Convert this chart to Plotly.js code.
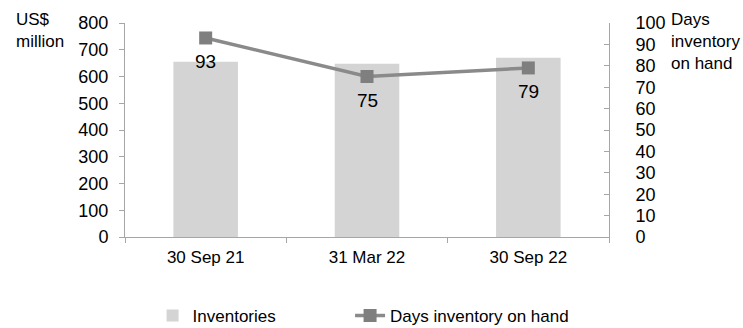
<!DOCTYPE html>
<html>
<head>
<meta charset="utf-8">
<script src="https://cdn.plot.ly/plotly-3.0.1.min.js"></script>
<style>html,body{margin:0;padding:0;background:#fff;}#chart{width:743px;height:328px;}</style>
</head>
<body>
<div id="chart"></div>
<script>
var categories = ['30 Sep 21', '31 Mar 22', '30 Sep 22'];
var inventories = [655, 648, 670];
var daysOnHand = [93, 75, 79];
var leftTicks = [0, 100, 200, 300, 400, 500, 600, 700, 800];
var rightTicks = [0, 10, 20, 30, 40, 50, 60, 70, 80, 90, 100];

var FONT = 'Liberation Sans, Arial, sans-serif';
var axisColor = '#a6a6a6';

var traces = [
  {
    type: 'bar', name: 'Inventories', x: categories, y: inventories,
    marker: {color: '#d4d4d4'}, width: 0.4, yaxis: 'y', hoverinfo: 'skip',
    legend: 'legend'
  },
  {
    type: 'scatter', mode: 'lines+markers', name: 'Days inventory on hand',
    x: categories, y: daysOnHand, yaxis: 'y2',
    line: {color: '#8a8a8a', width: 3.5},
    marker: {symbol: 'square', size: 13, color: '#7f7f7f'},
    cliponaxis: false, legend: 'legend2'
  }
];

var labelAnnotations = daysOnHand.map(function (v, i) {
  return {
    xref: 'x', yref: 'y2', x: categories[i], y: v, text: String(v),
    showarrow: false, yshift: -24,
    font: {family: FONT, size: 19, color: '#000'}
  };
});

var legendFont = {family: FONT, size: 17, color: '#000'};

var layout = {
  width: 743, height: 328,
  margin: {l: 125, r: 134, t: 23, b: 91, autoexpand: false},
  paper_bgcolor: '#fff', plot_bgcolor: '#fff',
  font: {family: FONT, size: 17, color: '#000'},
  showlegend: true,
  bargap: 0.6,
  xaxis: {
    type: 'category', showgrid: false, zeroline: false,
    showline: true, linecolor: axisColor, linewidth: 1,
    ticks: 'outside', tickson: 'boundaries', ticklen: 5, tickcolor: axisColor,
    ticklabelstandoff: 5,
    tickfont: {family: FONT, size: 17}, fixedrange: true
  },
  yaxis: {
    range: [0, 800], tickvals: leftTicks, showgrid: false, zeroline: false,
    showline: true, linecolor: axisColor, linewidth: 1,
    ticks: 'outside', ticklen: 5, tickcolor: axisColor,
    ticklabelstandoff: 7,
    tickfont: {family: FONT, size: 18}
  },
  yaxis2: {
    range: [0, 100], tickvals: rightTicks, overlaying: 'y', side: 'right',
    showgrid: false, zeroline: false,
    showline: true, linecolor: axisColor, linewidth: 1,
    ticks: 'inside', ticklen: 5, tickcolor: axisColor,
    ticklabelstandoff: 22,
    tickfont: {family: FONT, size: 18}
  },
  legend: {
    orientation: 'h', x: 0.057, xanchor: 'left', y: -0.369, yanchor: 'middle',
    font: legendFont, bgcolor: 'rgba(0,0,0,0)'
  },
  legend2: {
    orientation: 'h', x: 0.465, xanchor: 'left', y: -0.369, yanchor: 'middle',
    font: legendFont, bgcolor: 'rgba(0,0,0,0)'
  },
  annotations: [
    {xref: 'paper', yref: 'paper', x: -0.229, y: 1.07, xanchor: 'left', yanchor: 'top',
     text: 'US$<br>million', showarrow: false, align: 'left',
     font: {family: FONT, size: 17}},
    {xref: 'paper', yref: 'paper', x: 1.124, y: 1.07, xanchor: 'left', yanchor: 'top',
     text: 'Days<br>inventory<br>on hand', showarrow: false, align: 'left',
     font: {family: FONT, size: 17}}
  ].concat(labelAnnotations)
};

Plotly.newPlot('chart', traces, layout, {displayModeBar: false, staticPlot: true});
</script>
</body>
</html>
